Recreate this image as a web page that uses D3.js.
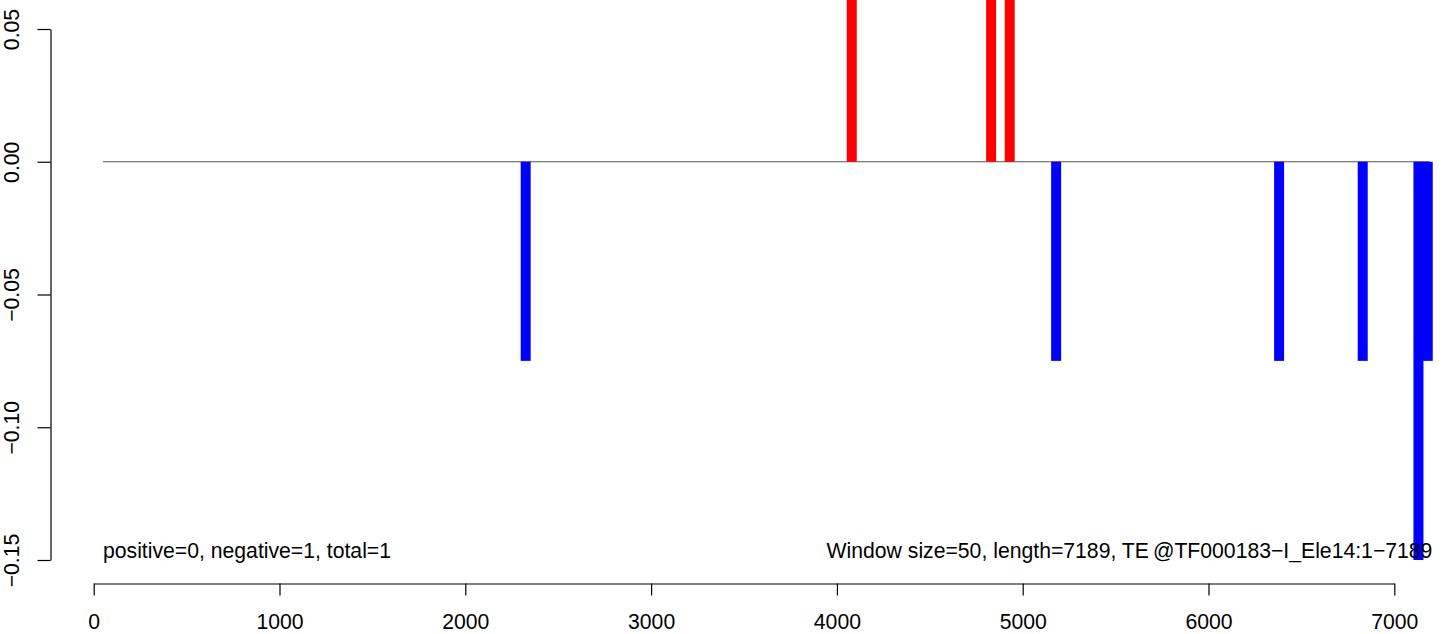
<!DOCTYPE html>
<html>
<head>
<meta charset="utf-8">
<script src="https://cdn.jsdelivr.net/npm/d3@7"></script>
<style>
  html, body { margin: 0; padding: 0; background: #fff; }
  svg { display: block; font-family: "Liberation Sans", Arial, sans-serif; }
</style>
</head>
<body>
<svg id="chart" width="1450" height="634"></svg>
<script>
// ---- data ----
const positions = [2325, 4080, 4830, 4930, 5180, 6380, 6830, 7130, 7180];
const values    = [-0.075, 0.075, 0.075, 0.075, -0.075, -0.075, -0.075, -0.15, -0.075];
const xTicks = [0, 1000, 2000, 3000, 4000, 5000, 6000, 7000];
const yTicks = [0.05, 0.00, -0.05, -0.10, -0.15];
const baselineRange = [50, 7189];
const leftNote = "positive=0, negative=1, total=1";
const rightNoteParts = ["Window size=50, length=7189, TE", "@TF000183\u2212I_Ele14:1\u22127189"];

// ---- layout ----
const svg = d3.select("#chart");
const x = d3.scaleLinear().domain([0, 7000]).range([93.7, 1394.3]);
const y = d3.scaleLinear().domain([-0.15, 0.05]).range([560, 29]);
const FS = 21.2;

// zero line
svg.append("line")
  .attr("x1", x(baselineRange[0])).attr("x2", x(baselineRange[1]))
  .attr("y1", y(0)).attr("y2", y(0))
  .attr("stroke", "#555").attr("stroke-width", 1);

// bars
svg.append("g").selectAll("rect").data(positions.map((p, i) => ({p, v: values[i]})))
  .join("rect")
  .attr("x", d => x(d.p) - 5)
  .attr("width", 10)
  .attr("y", d => Math.min(y(0), y(d.v)))
  .attr("height", d => Math.abs(y(d.v) - y(0)))
  .attr("fill", d => d.v > 0 ? "#ff0000" : "#0000ff");

// x axis
const xAxis = svg.append("g")
  .attr("transform", "translate(0,583.5)")
  .call(d3.axisBottom(x).tickValues(xTicks).tickFormat(d3.format("d")).tickSize(12).tickSizeOuter(0));
xAxis.select(".domain").attr("stroke", "#000").attr("stroke-width", 1.2);
xAxis.selectAll(".tick line").attr("stroke", "#000").attr("stroke-width", 1.2);
xAxis.selectAll(".tick text")
  .attr("y", 45.5).attr("dy", 0)
  .attr("fill", "#000").style("font-size", FS + "px").style("font-family", "Liberation Sans, Arial, sans-serif");

// y axis
const yAxis = svg.append("g")
  .attr("transform", "translate(50.5,0)")
  .call(d3.axisLeft(y).tickValues(yTicks).tickFormat(d3.format(".2f")).tickSize(13).tickSizeOuter(0));
yAxis.select(".domain").attr("stroke", "#000").attr("stroke-width", 1.2);
yAxis.selectAll(".tick line").attr("stroke", "#000").attr("stroke-width", 1.2);
yAxis.selectAll(".tick text")
  .attr("transform", "rotate(-90)")
  .attr("x", 0).attr("y", -32).attr("dy", 0)
  .attr("text-anchor", "middle")
  .attr("fill", "#000").style("font-size", FS + "px").style("font-family", "Liberation Sans, Arial, sans-serif");

// notes
svg.append("text")
  .attr("x", x(baselineRange[0])).attr("y", 558)
  .attr("font-size", FS).attr("fill", "#000")
  .text(leftNote);
const rt = svg.append("text")
  .attr("x", x(baselineRange[1]) + 3).attr("y", 558)
  .attr("text-anchor", "end")
  .attr("font-size", FS).attr("fill", "#000");
rt.append("tspan").text(rightNoteParts[0]);
rt.append("tspan").attr("dx", 4).text(rightNoteParts[1]);
</script>
</body>
</html>
